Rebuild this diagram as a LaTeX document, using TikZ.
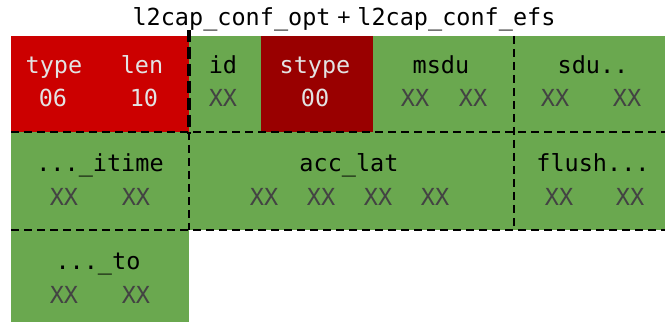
\documentclass[tikz,border=0pt]{standalone}
\usepackage{fontspec}
\setmonofont{DejaVu Sans Mono}
\newfontfamily\plusfont{Liberation Sans}
\definecolor{cellred}{HTML}{CC0000}
\definecolor{celldark}{HTML}{990000}
\definecolor{cellgreen}{HTML}{6AA84F}
\definecolor{bytegray}{HTML}{434343}
\definecolor{palegray}{HTML}{E3E3E3}

\begin{document}
\begin{tikzpicture}[x=1pt,y=-1pt,
  lbl/.style={font=\ttfamily\fontsize{23.5}{26}\selectfont, inner sep=0pt, anchor=base},
  val/.style={lbl, text=bytegray},
  onred/.style={text=palegray},
  sep/.style={dashed, dash pattern=on 8pt off 5pt, line width=1.8pt}]
 \useasboundingbox (0,0) rectangle (665,323);
 % cells
  \fill[cellred]   (11,36)  rectangle (189,132);
  \fill[cellgreen] (189,36) rectangle (665,230);
  \fill[celldark]  (261,36) rectangle (373,132);
  \fill[cellgreen] (11,132) rectangle (189,322);
 % separators
  \draw[sep] (11,132) -- (665,132);
  \draw[sep] (11,230) -- (665,230);
  \draw[sep] (189,132) -- (189,230);
  \draw[sep] (514,36) -- (514,230);
  \draw[sep, line width=3.2pt, dash pattern=on 12pt off 5pt] (189,30) -- (189,134);

  \node[lbl] (title) at (344,26) {l2cap\_conf\_opt{\plusfont\ +\ }l2cap\_conf\_efs};

  \node[lbl,onred] (type)   at (54,74)   {type};
  \node[lbl,onred] (typev)  at (53,107)  {06};
  \node[lbl,onred] (len)    at (142,74)  {len};
  \node[lbl,onred] (lenv)   at (144,107) {10};
  \node[lbl]       (id)     at (223,74)  {id};
  \node[val]       (idv)    at (223,107) {XX};
  \node[lbl,onred] (stype)  at (315,74)  {stype};
  \node[lbl,onred] (stypev) at (315,107) {00};
  \node[lbl]       (msdu)   at (441,74)  {msdu};
  \node[val]       (msdu1)  at (415,107) {XX};
  \node[val]       (msdu2)  at (473,107) {XX};
  \node[lbl]       (sdu)    at (593,74)  {sdu..};
  \node[val]       (sdu1)   at (555,107) {XX};
  \node[val]       (sdu2)   at (627,107) {XX};

  \node[lbl]       (itime)  at (100,172) {...\_itime};
  \node[val]       (itime1) at (64,206)  {XX};
  \node[val]       (itime2) at (136,206) {XX};
  \node[lbl]       (acclat) at (349,172) {acc\_lat};
  \foreach \x [count=\i] in {264,321,378,435}
    \node[val] (acclat\i) at (\x,206) {XX};
  \node[lbl]       (flush)  at (593,172) {flush...};
  \node[val]       (flush1) at (559,206) {XX};
  \node[val]       (flush2) at (630,206) {XX};

  \node[lbl]       (to)     at (98,270)  {...\_to};
  \node[val]       (to1)    at (64,304)  {XX};
  \node[val]       (to2)    at (136,304) {XX};
\end{tikzpicture}
\end{document}
